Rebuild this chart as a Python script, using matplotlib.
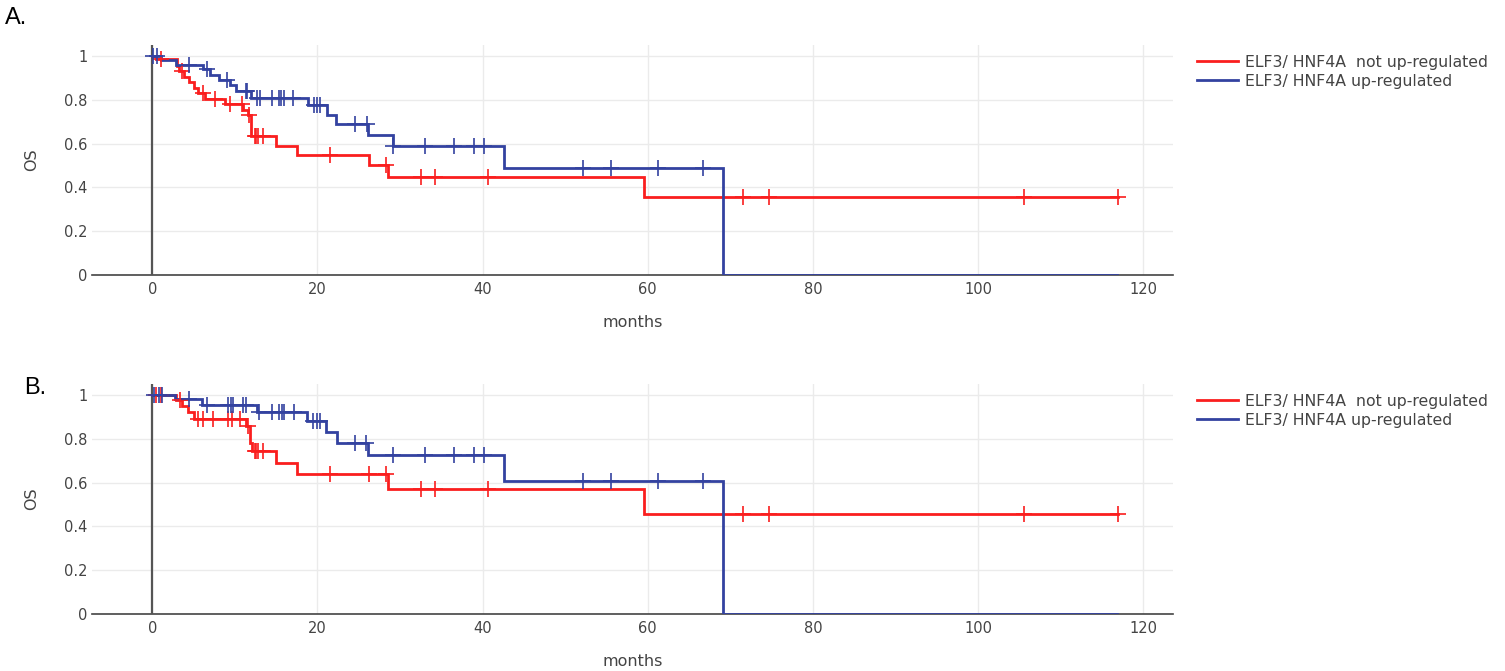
import matplotlib
matplotlib.use("Agg")
import matplotlib.pyplot as plt
import numpy as np

# ---------------- data ----------------
x_ticks = [0, 20, 40, 60, 80, 100, 120]
y_ticks = [0, 0.2, 0.4, 0.6, 0.8, 1.0]
y_tick_labels = ["0", "0.2", "0.4", "0.6", "0.8", "1"]
legend_labels = ["ELF3/ HNF4A  not up-regulated", "ELF3/ HNF4A up-regulated"]

# Panel A - not up-regulated (red)
a_red_times = [0, 0.5, 3.0, 3.3, 3.8, 4.4, 5.1, 5.6, 6.4, 8.8, 11.0, 11.6, 11.9, 15.0, 17.5, 26.2, 28.6, 59.6]
a_red_surv = [1.0, 0.985, 0.955, 0.93, 0.905, 0.88, 0.855, 0.83, 0.805, 0.78, 0.755, 0.73, 0.635, 0.59, 0.548, 0.50, 0.447, 0.358]
a_red_end = 116.9
a_red_censor = [1.1, 3.6, 6.2, 7.6, 9.4, 10.9, 11.7, 12.4, 12.6, 12.8, 13.4, 21.5, 28.3, 32.6, 34.2, 40.7,
                71.5, 74.7, 105.5, 116.9]

# Panel A - up-regulated (blue)
a_blue_times = [0, 1.0, 2.9, 6.2, 7.0, 8.1, 9.4, 10.1, 11.9, 18.9, 21.2, 22.3, 26.1, 29.1, 42.6, 69.1]
a_blue_surv = [1.0, 0.98, 0.96, 0.94, 0.915, 0.89, 0.865, 0.84, 0.81, 0.775, 0.73, 0.69, 0.64, 0.59, 0.49, 0.0]
a_blue_end = 116.8
a_blue_censor = [0.1, 0.6, 4.5, 6.6, 9.1, 11.3, 11.5, 12.7, 13.0, 14.5, 15.3, 15.6, 15.9, 17.1, 19.6, 19.9, 20.3,
                 24.6, 26.0, 29.1, 33.05, 36.5, 39.0, 40.2, 52.2, 55.6, 61.2, 66.7]

# Panel B - not up-regulated (red)
b_red_times = [0, 2.9, 3.6, 4.3, 5.0, 11.4, 11.8, 12.1, 15.0, 17.5, 28.6, 59.6]
b_red_surv = [1.0, 0.975, 0.95, 0.92, 0.89, 0.86, 0.78, 0.745, 0.69, 0.64, 0.57, 0.457]
b_red_end = 116.9
b_red_censor = [0.4, 1.0, 3.4, 5.5, 6.2, 7.4, 9.2, 9.6, 10.6, 11.6, 12.4, 12.6, 12.8, 13.4, 21.5, 26.2, 28.3,
                32.6, 34.2, 40.7, 71.5, 74.7, 105.5, 116.9]

# Panel B - up-regulated (blue)
b_blue_times = [0, 2.8, 6.0, 12.7, 18.7, 21.0, 22.4, 26.1, 42.65, 69.1]
b_blue_surv = [1.0, 0.98, 0.955, 0.923, 0.882, 0.832, 0.783, 0.725, 0.607, 0.0]
b_blue_end = 116.8
b_blue_censor = [0.2, 0.8, 1.2, 4.4, 6.6, 9.2, 9.5, 9.8, 11.05, 11.4, 12.9, 14.5, 15.3, 15.7, 16.0, 17.2,
                 19.5, 19.9, 20.3, 24.6, 25.9, 29.1, 33.05, 36.5, 39.0, 40.2, 52.2, 55.6, 61.2, 66.7]

RED = "#fa1e1e"
BLUE = "#3342a0"
TXT = "#444444"

fig = plt.figure(figsize=(15.05, 6.71), dpi=100)


def level_at(times, surv, t):
    idx = np.searchsorted(np.asarray(times), t, side="right") - 1
    return np.asarray(surv)[idx]


def draw_curve(ax, times, surv, end, censor, color, label):
    xs = list(times) + [end]
    ys = list(surv) + [surv[-1]]
    ax.step(xs, ys, where="post", color=color, lw=2.0, label=label, zorder=4, solid_joinstyle="miter")
    cy = [level_at(times, surv, c) for c in censor]
    ax.plot(censor, cy, ls="none", marker="+", ms=12, mew=1.2, color=color, zorder=5)


def panel(rect, red, blue, letter, letter_xy):
    ax = fig.add_axes(rect)
    ax.set_xlim(-7.3, 123.6)
    ax.set_ylim(0, 1.05)
    ax.set_xticks(x_ticks)
    ax.set_yticks(y_ticks)
    ax.set_yticklabels(y_tick_labels)
    ax.grid(True, color="#ebebeb", lw=1.0, zorder=0)
    ax.tick_params(length=0, labelsize=10.5, labelcolor=TXT, pad=5)
    ax.tick_params(axis="y", pad=3)
    for s in ["top", "right", "left"]:
        ax.spines[s].set_visible(False)
    ax.spines["bottom"].set_color(TXT)
    ax.spines["bottom"].set_linewidth(1.2)
    ax.axvline(0, color="#555555", lw=1.6, zorder=3)
    draw_curve(ax, *red, RED, legend_labels[0])
    draw_curve(ax, *blue, BLUE, legend_labels[1])
    ax.set_xlabel("months", fontsize=11.5, color=TXT, labelpad=13)
    ax.set_ylabel("OS", fontsize=11.5, color=TXT, labelpad=18)
    handles = [plt.Line2D([], [], color=RED, lw=2), plt.Line2D([], [], color=BLUE, lw=2)]
    ax.legend(handles, legend_labels, loc="upper left", bbox_to_anchor=(1.012, 1.005),
              frameon=False, fontsize=11.3, labelcolor=TXT, handlelength=2.6,
              handletextpad=0.45, labelspacing=0.25, borderaxespad=0.3)
    fig.text(letter_xy[0], letter_xy[1], letter, fontsize=17, color="black",
             ha="left", va="center", family="Liberation Sans")
    return ax


panel([0.0611, 0.5902, 0.7183, 0.3428],
      (a_red_times, a_red_surv, a_red_end, a_red_censor),
      (a_blue_times, a_blue_surv, a_blue_end, a_blue_censor),
      "A.", (0.003, 1 - 18 / 671))
panel([0.0611, 0.0849, 0.7183, 0.3428],
      (b_red_times, b_red_surv, b_red_end, b_red_censor),
      (b_blue_times, b_blue_surv, b_blue_end, b_blue_censor),
      "B.", (0.016, 1 - 388 / 671))

fig.savefig("out.png", dpi=100)
